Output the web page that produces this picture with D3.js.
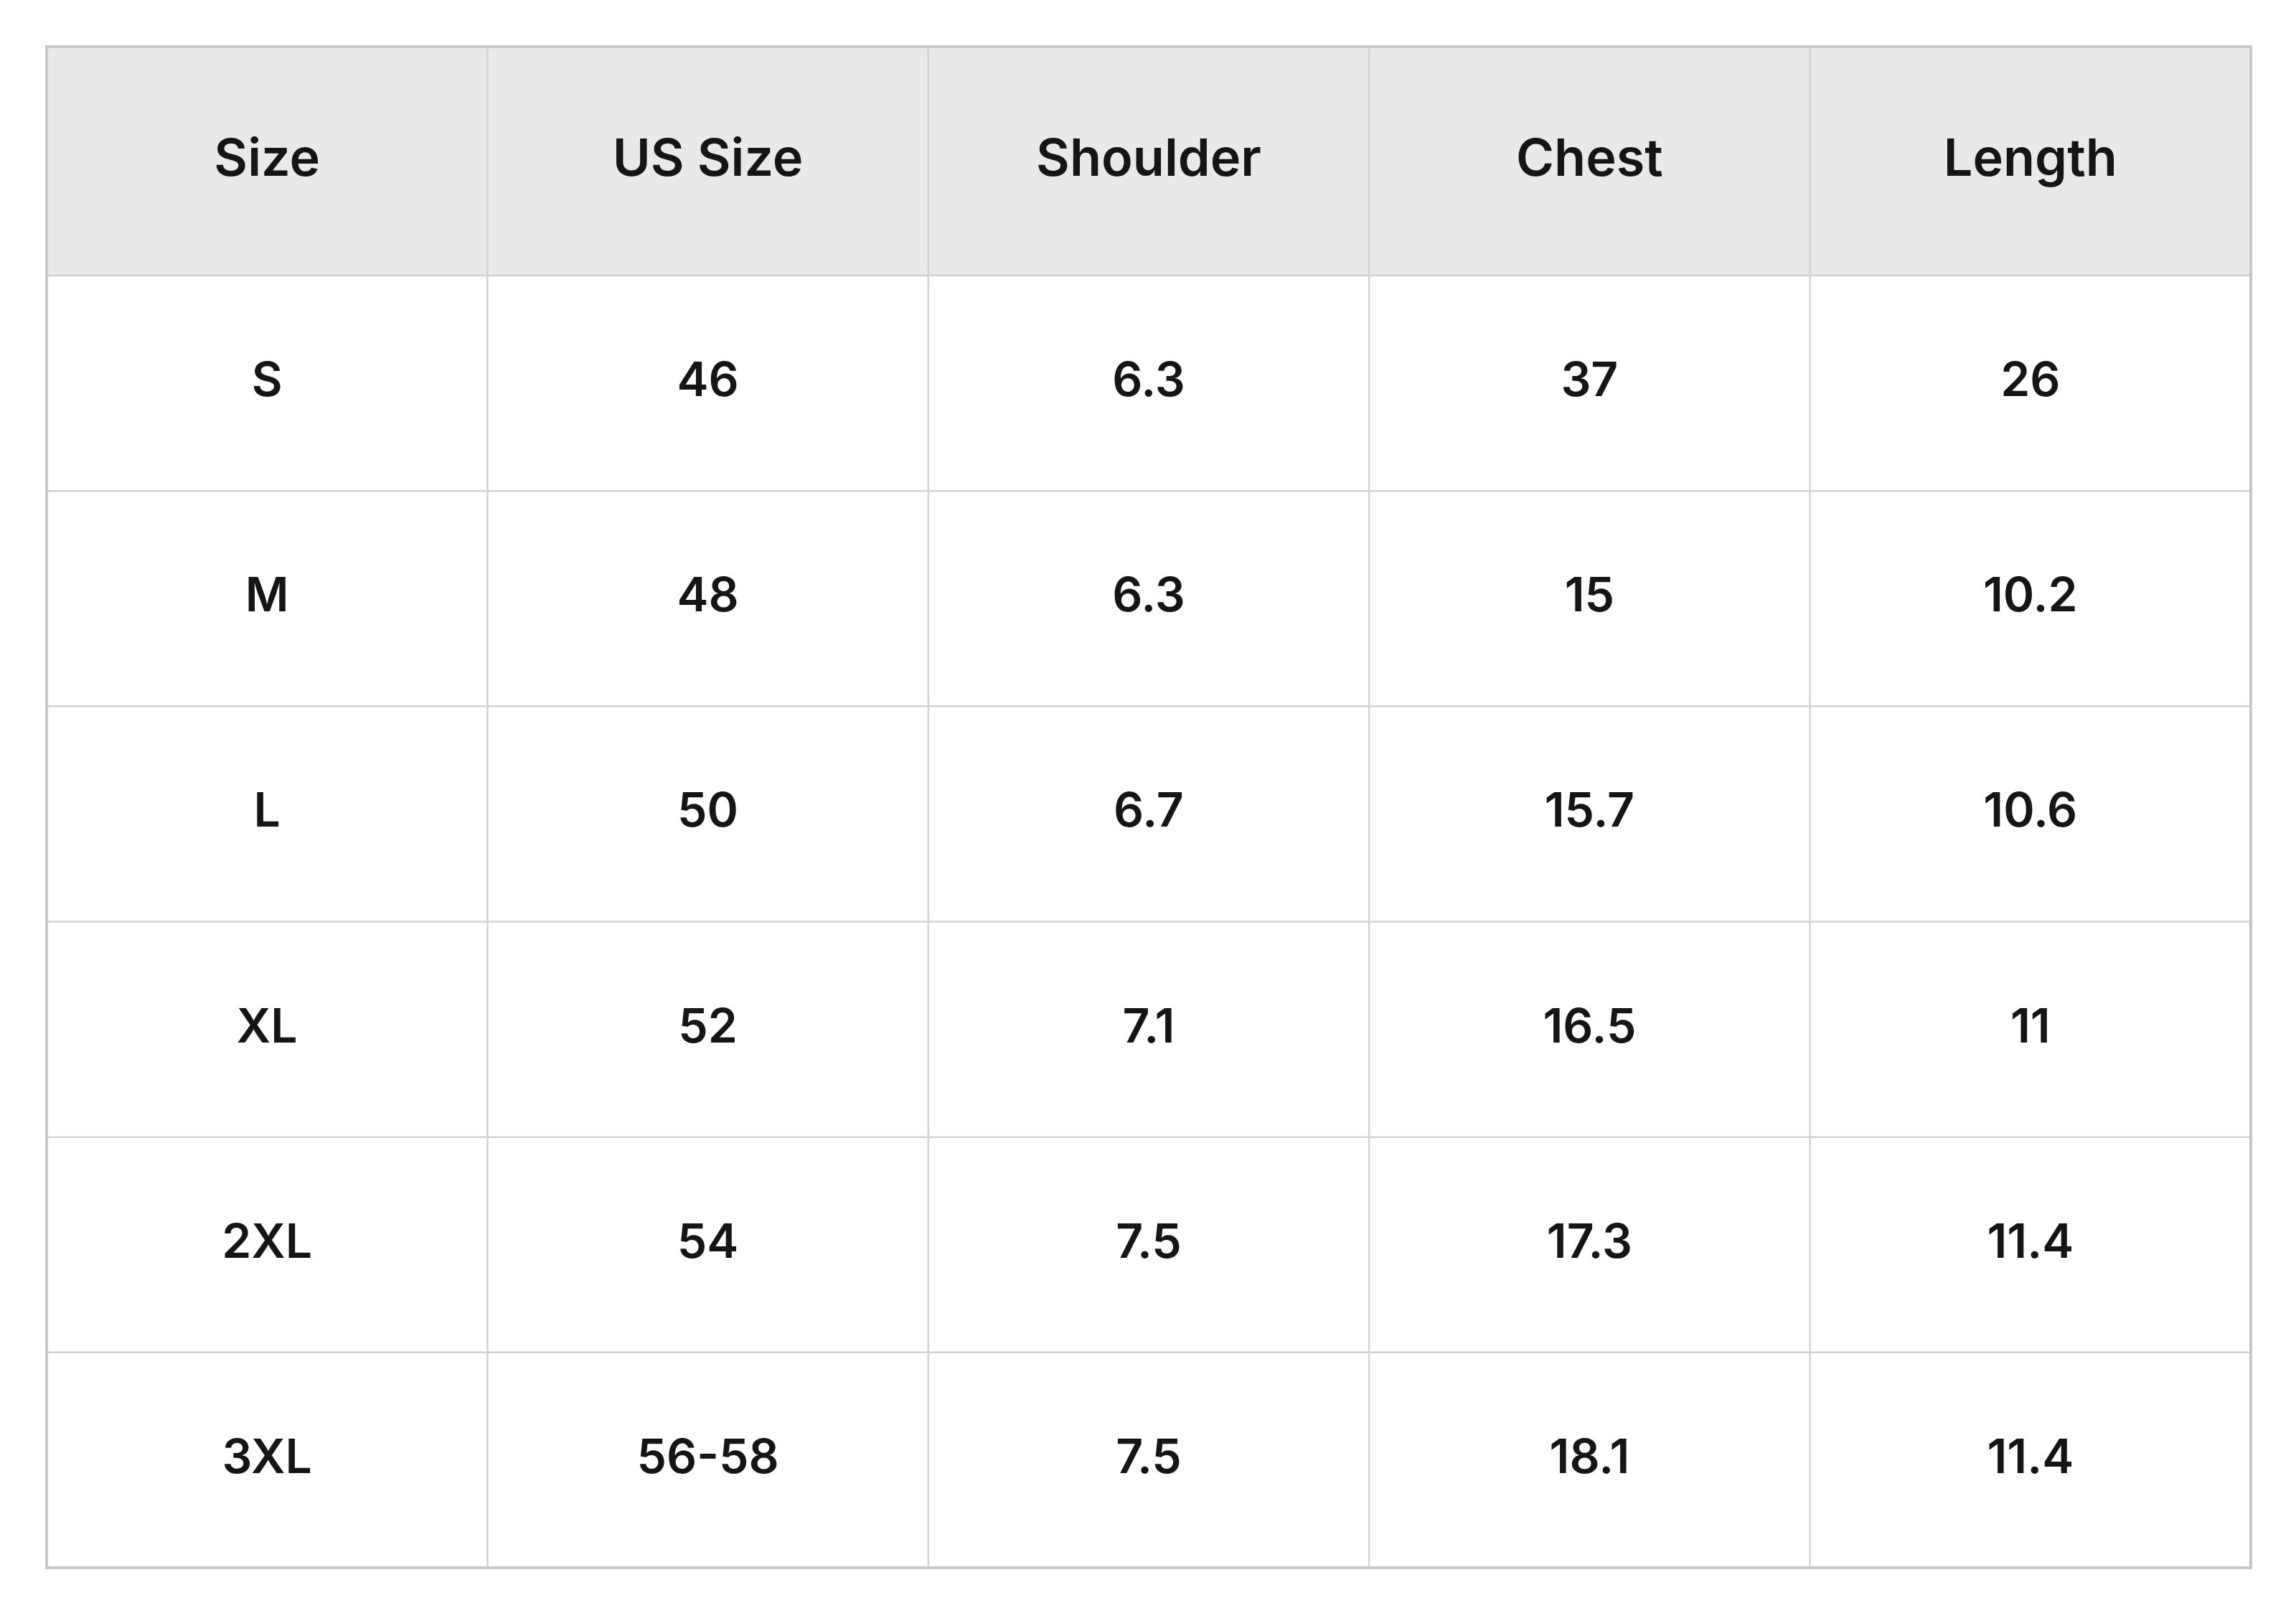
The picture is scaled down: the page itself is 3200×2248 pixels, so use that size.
<!DOCTYPE html>
<html><head><meta charset="utf-8">
<script src="https://cdn.jsdelivr.net/npm/d3@7"></script>
<style>html,body{margin:0;background:#fff}</style>
</head><body><svg id="c" width="3200" height="2248"></svg>
<script>
const columns = ["Size","US Size","Shoulder","Chest","Length"];
const sizes = ["S","M","L","XL","2XL","3XL"];
const usSize = ["46","48","50","52","54","56-58"];
const shoulder = ["6.3","6.3","6.7","7.1","7.5","7.5"];
const chest = ["37","15","15.7","16.5","17.3","18.1"];
const length = ["26","10.2","10.6","11","11.4","11.4"];

const rows = sizes.map((s,i)=>[s,usSize[i],shoulder[i],chest[i],length[i]]);
const svg = d3.select("#c");
const L=65,R=3137,T=65,H=384,B=2185;
const x = d3.scaleBand().domain(d3.range(columns.length)).range([L,R]);
const y = d3.scaleBand().domain(d3.range(rows.length)).range([H,B]);
const font = "Inter, 'Noto Sans', sans-serif";

svg.append("rect").attr("x",L).attr("y",T).attr("width",R-L).attr("height",H-T).attr("fill","#e9e9e9");
svg.selectAll("text.h").data(columns).join("text")
  .attr("x",(d,i)=>x(i)+x.bandwidth()/2).attr("y",(T+H)/2-6)
  .attr("text-anchor","middle").attr("dominant-baseline","central")
  .attr("font-family",font).attr("font-weight",600).attr("font-size",72).attr("fill","#151515")
  .text(d=>d);
rows.forEach((r,ri)=>{
  svg.selectAll(null).data(r).join("text")
    .attr("x",(d,i)=>x(i)+x.bandwidth()/2).attr("y",y(ri)+y.bandwidth()/2-6)
    .attr("text-anchor","middle").attr("dominant-baseline","central")
    .attr("font-family",font).attr("font-weight",600).attr("font-size",66).attr("fill","#151515")
    .text(d=>d);
});
const g = svg.append("g").attr("stroke","#d2d2d2").attr("stroke-width",2.5);
d3.range(1,columns.length).forEach(i=>g.append("line").attr("x1",x(i)).attr("x2",x(i)).attr("y1",T).attr("y2",B));
d3.range(0,rows.length).forEach(i=>g.append("line").attr("x1",L).attr("x2",R).attr("y1",y(i)).attr("y2",y(i)));
g.append("rect").attr("x",L).attr("y",T).attr("width",R-L).attr("height",B-T).attr("fill","none").attr("stroke","#c8c8c8").attr("stroke-width",4);
</script></body></html>
